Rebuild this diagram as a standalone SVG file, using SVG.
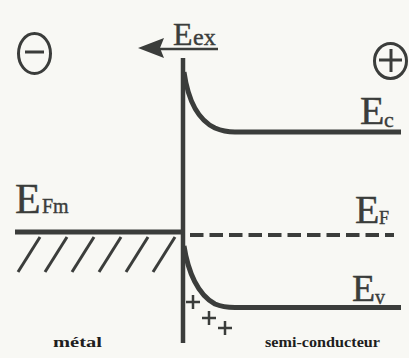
<svg xmlns="http://www.w3.org/2000/svg" width="409" height="358" viewBox="0 0 409 358">
<style>
.ln{fill:none;stroke:#3b3d3b;stroke-linecap:butt}
.t{font-family:"Liberation Serif",serif;fill:#3b3d3b;stroke:#3b3d3b;stroke-width:0.4}
.b{font-family:"Liberation Serif",serif;font-weight:bold;fill:#1e1e1e;font-size:15px}
</style>
<rect width="409" height="358" fill="#f8f8f4"/>
<g id="minus">
<ellipse class="ln" cx="34.5" cy="53.5" rx="16" ry="20" stroke-width="3"/>
<line class="ln" x1="25" y1="52" x2="44" y2="52" stroke-width="3"/>
</g>
<g id="plus">
<ellipse class="ln" cx="390.5" cy="61" rx="16" ry="17.5" stroke-width="3"/>
<line class="ln" x1="379" y1="60" x2="402" y2="60" stroke-width="3"/>
<line class="ln" x1="391" y1="49" x2="391" y2="72" stroke-width="3"/>
</g>
<g id="field">
<line class="ln" x1="160" y1="49" x2="218" y2="49" stroke-width="2.5"/>
<polygon points="138,48 164,38 160,48 164,58" fill="#3b3d3b"/>
<text class="t" y="45"><tspan x="173" font-size="32">E</tspan><tspan x="193" font-size="24">ex</tspan></text>
</g>
<g id="interface">
<line class="ln" x1="183" y1="58" x2="183" y2="343" stroke-width="4.5"/>
</g>
<g id="metal">
<line class="ln" x1="15" y1="232" x2="183" y2="232" stroke-width="5"/>
<g class="ln" stroke-width="3">
<line x1="18" y1="272" x2="40" y2="237"/>
<line x1="45" y1="272" x2="67" y2="237"/>
<line x1="72" y1="272" x2="94" y2="237"/>
<line x1="99" y1="272" x2="121" y2="237"/>
<line x1="126" y1="272" x2="148" y2="237"/>
<line x1="153" y1="272" x2="175" y2="237"/>
</g>
<text class="t" y="213"><tspan x="15" font-size="42">E</tspan><tspan x="42" font-size="20">Fm</tspan></text>
</g>
<g id="connectors">
<path class="ln" d="M184,72 C188,100 198,120 215,128 C222,131 228,132 235,132 L401,132" stroke-width="5"/>
<path class="ln" d="M184,246 C188,272 198,295 215,304 C222,307 228,307.5 235,307.5 L401,307.5" stroke-width="5"/>
<line class="ln" x1="190" y1="235" x2="394" y2="235" stroke-width="4" stroke-dasharray="13.5 6"/>
</g>
<g id="labels">
<text class="t" y="124"><tspan x="360" font-size="40">E</tspan><tspan x="384" y="127" font-size="22">c</tspan></text>
<text class="t" y="223"><tspan x="355" font-size="40">E</tspan><tspan x="379" y="224" font-size="18">F</tspan></text>
<text class="t" y="301"><tspan x="352" font-size="38">E</tspan><tspan x="375" y="304" font-size="20">v</tspan></text>
</g>
<g id="charges" class="ln" stroke-width="2.5">
<line x1="186" y1="302" x2="200" y2="302"/><line x1="193" y1="295" x2="193" y2="309"/>
<line x1="202" y1="318" x2="216" y2="318"/><line x1="209" y1="311" x2="209" y2="325"/>
<line x1="218" y1="328" x2="232" y2="328"/><line x1="225" y1="321" x2="225" y2="335"/>
</g>
<text class="b" x="53" y="347" textLength="49" lengthAdjust="spacingAndGlyphs">métal</text>
<text class="b" x="265" y="347" textLength="115" lengthAdjust="spacingAndGlyphs">semi-conducteur</text>
</svg>
